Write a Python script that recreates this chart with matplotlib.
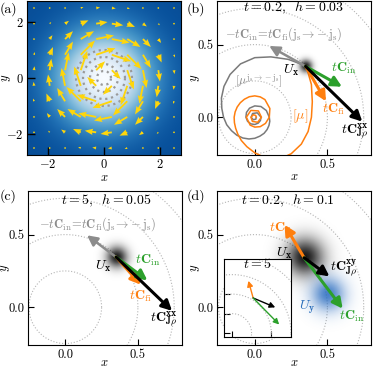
import numpy as np
import matplotlib
matplotlib.use('Agg')
import matplotlib.pyplot as plt

plt.rcParams.update({
    'font.family': 'serif',
    'font.serif': ['cmr10'],
    'mathtext.fontset': 'cm',
    'axes.formatter.use_mathtext': True,
    'font.size': 9,
    'xtick.direction': 'in',
    'ytick.direction': 'in',
    'xtick.major.size': 4,
    'ytick.major.size': 4,
    'xtick.major.pad': 2.5,
    'ytick.major.pad': 2.5,
})

#--- panel (a): vortex field ---
GridPos = [-2.5, -1.94, -1.39, -0.83, -0.28, 0.28, 0.83, 1.39, 1.94, 2.5]
#arrow length, indexed by ring of column and ring of row from the centre
SpeedTable = [[0.45, 0.73, 0.65, 0.41, 0.14],
              [0.73, 0.72, 0.55, 0.30, 0.10],
              [0.65, 0.55, 0.40, 0.17, 0.06],
              [0.41, 0.30, 0.17, 0.08, 0.03],
              [0.14, 0.10, 0.06, 0.03, 0.01]]
DensityWidth = 1.2
CircleR = [0.25, 0.5, 0.75, 1.0]

#--- panel (b): spirals, (angle deg, radius) ---
GrayTheta = [45, 60, 75, 90, 105, 120, 135, 150, 165, 180, 195, 210, 225, 240, 255, 270,
             285, 300, 315, 330, 345, 360, 390, 420, 450, 480, 510, 540, 570, 600, 630,
             660, 690, 720, 780, 840, 900, 960, 1020, 1080]
GrayR = [0.50, 0.46, 0.43, 0.41, 0.38, 0.34, 0.30, 0.265, 0.235, 0.215, 0.20, 0.185, 0.175,
         0.165, 0.155, 0.145, 0.135, 0.128, 0.12, 0.113, 0.107, 0.10, 0.092, 0.085, 0.078,
         0.072, 0.066, 0.061, 0.057, 0.053, 0.05, 0.047, 0.045, 0.043, 0.035, 0.03, 0.025,
         0.02, 0.015, 0.01]
OrangeTheta = [45, 30, 15, 0, -15, -30, -45, -60, -75, -90, -105, -120, -135, -150, -165,
               -180, -195, -210, -225, -240, -255, -270, -285, -300, -330, -360, -390,
               -420, -450, -480, -540, -600, -660, -720, -780, -840, -900, -960, -1020, -1080]
OrangeR = [0.50, 0.45, 0.41, 0.39, 0.38, 0.37, 0.355, 0.335, 0.29, 0.245, 0.21, 0.185, 0.165,
           0.152, 0.145, 0.142, 0.14, 0.14, 0.141, 0.143, 0.146, 0.147, 0.145, 0.14, 0.12,
           0.10, 0.085, 0.075, 0.068, 0.063, 0.058, 0.054, 0.05, 0.046, 0.04, 0.033, 0.026,
           0.02, 0.014, 0.01]

#--- arrows: start point, then (dx, dy) per vector ---
CentreB = (0.35, 0.35)
B_rev = (-0.25, 0.14)
B_in = (0.25, -0.14)
B_fi = (0.14, -0.24)
B_xx = (0.39, -0.38)

CentreC = (0.35, 0.345)
C_rev = (-0.20, 0.15)
C_in = (0.215, -0.16)
C_fi = (0.17, -0.19)
C_xx = (0.385, -0.37)

CentreD = (0.34, 0.34)
CentreUy = (0.50, 0.085)
D_fi = (-0.135, 0.227)
D_in = (0.265, -0.35)
D_xy = (0.174, -0.128)

#inset (t = 5)
Inset_fi = (-0.06, 0.22)
Inset_xy = (0.28, -0.12)
Inset_in = (0.33, -0.34)

Orange = '#ff7f0e'
Green = '#2ca02c'
Gray = '#8c8c8c'
Gold = '#ffd60a'
Lim = (-0.26, 0.8)

W, H = 3.73, 3.69
fig = plt.figure(figsize=(W, H), dpi=100)

def Frame(l, t, r, b):
    return fig.add_axes([l / 373, 1 - b / 369, (r - l) / 373, (b - t) / 369])

#---(a)---
Ax = Frame(26, 1, 182, 155)
g = np.linspace(-2.75, 2.75, 300)
GX, GY = np.meshgrid(g, g)
Dens = 1 - np.exp(-(GX**2 + GY**2) / (2 * DensityWidth**2))
Ax.imshow(Dens, extent=[-2.75, 2.75, -2.75, 2.75], origin='lower', cmap='Blues',
          vmin=0, vmax=1.12, interpolation='bilinear')
th = np.linspace(0, 2 * np.pi, 200)
for R in CircleR:
    Ax.plot(R * np.cos(th), R * np.sin(th), ls=':', color='#9a9a9a', lw=1.6)
X, Y = np.meshgrid(GridPos, GridPos)
U = np.zeros_like(X)
V = np.zeros_like(X)
for i in range(len(GridPos)):
    for j in range(len(GridPos)):
        ri = int(abs(i - 4.5))
        rj = int(abs(j - 4.5))
        s = SpeedTable[rj][ri]
        r = np.hypot(X[i, j], Y[i, j])
        U[i, j] = s * Y[i, j] / r
        V[i, j] = -s * X[i, j] / r
Ax.quiver(X, Y, U, V, angles='xy', scale_units='xy', scale=1, color=Gold,
          width=0.012, headwidth=3.4, headlength=4.4, headaxislength=4, zorder=3)
Ax.set_xlim(-2.75, 2.75)
Ax.set_ylim(-2.75, 2.75)
Ax.set_xticks([-2, 0, 2])
Ax.set_yticks([-2, 0, 2])
Ax.tick_params(length=6, width=1)
Ax.set_xlabel(r'$x$', labelpad=0.5)
Ax.set_ylabel(r'$y$', labelpad=-5)

def Blob(ax, c, h, rgb, a=0.9):
    gg = np.linspace(-0.3, 0.3, 121)
    BX, BY = np.meshgrid(gg, gg)
    img = np.zeros((121, 121, 4))
    img[..., :3] = rgb
    img[..., 3] = a * np.exp(-(BX**2 + BY**2) / (2 * h**2))
    ax.imshow(img, extent=[c[0] - 0.3, c[0] + 0.3, c[1] - 0.3, c[1] + 0.3],
              origin='lower', interpolation='bilinear', zorder=2)

def Arrow(ax, c, d, col, lw=2.2, ms=11, z=4):
    ax.annotate('', xy=(c[0] + d[0], c[1] + d[1]), xytext=c,
                arrowprops=dict(arrowstyle='-|>,head_length=0.55,head_width=0.28',
                                color=col, lw=lw, mutation_scale=ms,
                                shrinkA=0, shrinkB=0), zorder=z)

def Base(ax, xpad=-2.5):
    for R in CircleR:
        ax.plot(R * np.cos(th), R * np.sin(th), ls=':', color='#b5b5b5', lw=0.8, zorder=1)
    ax.set_xlim(*Lim)
    ax.set_ylim(*Lim)
    ax.set_xticks([0, 0.5])
    ax.set_yticks([0, 0.5])
    ax.set_xticklabels(['0.0', '0.5'])
    ax.set_yticklabels(['0.0', '0.5'])
    ax.set_xlabel(r'$x$', labelpad=xpad)
    ax.set_ylabel(r'$y$', labelpad=-3)

TF = 10
#---(b)---
Ax = Frame(217, 1, 371, 155)
Base(Ax, xpad=0.5)
gt = np.radians(GrayTheta)
Ax.plot(np.array(GrayR) * np.cos(gt), np.array(GrayR) * np.sin(gt), color='#7a7a7a', lw=1.1, zorder=2)
ot = np.radians(OrangeTheta)
Ax.plot(np.array(OrangeR) * np.cos(ot), np.array(OrangeR) * np.sin(ot), color=Orange, lw=1.1, zorder=2)
Blob(Ax, CentreB, 0.03, (0, 0, 0))
Arrow(Ax, CentreB, B_rev, Gray, lw=1.8)
Arrow(Ax, CentreB, B_fi, Orange)
Arrow(Ax, CentreB, B_in, Green)
Arrow(Ax, CentreB, B_xx, 'black')
Ax.text(0.27, 0.75, r'$t=0.2,\;\;h=0.03$', ha='center', va='center', fontsize=TF)
Ax.text(0.2, 0.575, r'$-t\mathbf{C}_\mathrm{in}\!=\!t\mathbf{C}_\mathrm{fi}(\mathrm{j_s}\!\rightarrow\!-\mathrm{j_s})$',
        ha='center', va='center', fontsize=9, color=Gray)
Ax.text(0.03, 0.25, r'$[\mu^{\mathrm{j_s}\rightarrow-\mathrm{j_s}}]$', ha='center', va='center',
        fontsize=8.5, color=Gray)
Ax.text(0.31, 0.01, r'$[\mu]$', ha='center', va='center', fontsize=TF, color=Orange)
Ax.text(0.25, 0.32, r'$U_\mathbf{x}$', ha='center', va='center', fontsize=TF)
Ax.text(0.615, 0.335, r'$t\mathbf{C}_\mathrm{in}$', ha='center', va='center', fontsize=TF, color=Green)
Ax.text(0.54, 0.055, r'$t\mathbf{C}_\mathrm{fi}$', ha='center', va='center', fontsize=TF, color=Orange)
Ax.text(0.69, -0.095, r'$t\mathbf{C}^{\mathbf{xx}}_{\mathbf{J}\rho}$', ha='center', va='center', fontsize=TF)

#---(c)---
Ax = Frame(27, 191, 182, 345)
Base(Ax)
Blob(Ax, CentreC, 0.05, (0, 0, 0))
Arrow(Ax, CentreC, C_rev, Gray, lw=1.8)
Arrow(Ax, CentreC, C_fi, Orange)
Arrow(Ax, CentreC, C_in, Green)
Arrow(Ax, CentreC, C_xx, 'black')
Ax.text(0.28, 0.73, r'$t=5,\;\;h=0.05$', ha='center', va='center', fontsize=TF)
Ax.text(0.22, 0.57, r'$-t\mathbf{C}_\mathrm{in}\!=\!t\mathbf{C}_\mathrm{fi}(\mathrm{j_s}\!\rightarrow\!-\mathrm{j_s})$',
        ha='center', va='center', fontsize=9, color=Gray)
Ax.text(0.26, 0.28, r'$U_\mathbf{x}$', ha='center', va='center', fontsize=TF)
Ax.text(0.57, 0.32, r'$t\mathbf{C}_\mathrm{in}$', ha='center', va='center', fontsize=TF, color=Green)
Ax.text(0.52, 0.075, r'$t\mathbf{C}_\mathrm{fi}$', ha='center', va='center', fontsize=TF, color=Orange)
Ax.text(0.68, -0.085, r'$t\mathbf{C}^{\mathbf{xx}}_{\mathbf{J}\rho}$', ha='center', va='center', fontsize=TF)

#---(d)---
Ax = Frame(217, 191, 371, 345)
Base(Ax)
Blob(Ax, CentreD, 0.09, (0, 0, 0))
Blob(Ax, CentreUy, 0.08, (0.16, 0.42, 0.75), a=0.85)
Arrow(Ax, CentreD, D_fi, Orange)
Arrow(Ax, CentreD, D_in, Green)
Arrow(Ax, CentreD, D_xy, 'black')
Ax.text(0.23, 0.73, r'$t=0.2,\;\;h=0.1$', ha='center', va='center', fontsize=TF)
Ax.text(0.18, 0.545, r'$t\mathbf{C}_\mathrm{fi}$', ha='center', va='center', fontsize=TF, color=Orange)
Ax.text(0.2, 0.37, r'$U_\mathbf{x}$', ha='center', va='center', fontsize=TF)
Ax.text(0.61, 0.27, r'$t\mathbf{C}^{\mathbf{xy}}_{\mathbf{J}\rho}$', ha='center', va='center', fontsize=TF)
Ax.text(0.36, 0.0, r'$U_\mathbf{y}$', ha='center', va='center', fontsize=TF, color='#2a6ebb')
Ax.text(0.67, -0.06, r'$t\mathbf{C}_\mathrm{in}$', ha='center', va='center', fontsize=TF, color=Green)

In = Frame(224, 259, 291, 337)
for R in CircleR:
    In.plot(R * np.cos(th), R * np.sin(th), ls=':', color='#b5b5b5', lw=0.8)
In.set_xlim(-0.1, 0.75)
In.set_ylim(-0.05, 0.95)
In.set_xticks([0, 0.5])
In.set_yticks([0, 0.25, 0.5])
In.set_xticklabels([])
In.set_yticklabels([])
c0 = (0.27, 0.45)
Arrow(In, c0, Inset_fi, Orange, lw=1.0, ms=6)
Arrow(In, c0, Inset_xy, 'black', lw=1.0, ms=6)
Arrow(In, c0, Inset_in, Green, lw=1.0, ms=6)
In.text(0.33, 0.88, r'$t=5$', ha='center', va='center', fontsize=TF)

fig.text(0.0, 0.995, '(a)', ha='left', va='top', fontsize=TF)
fig.text(0.5, 0.995, '(b)', ha='left', va='top', fontsize=TF)
fig.text(0.0, 0.487, '(c)', ha='left', va='top', fontsize=TF)
fig.text(0.5, 0.487, '(d)', ha='left', va='top', fontsize=TF)

fig.savefig('out.png', dpi=100)
